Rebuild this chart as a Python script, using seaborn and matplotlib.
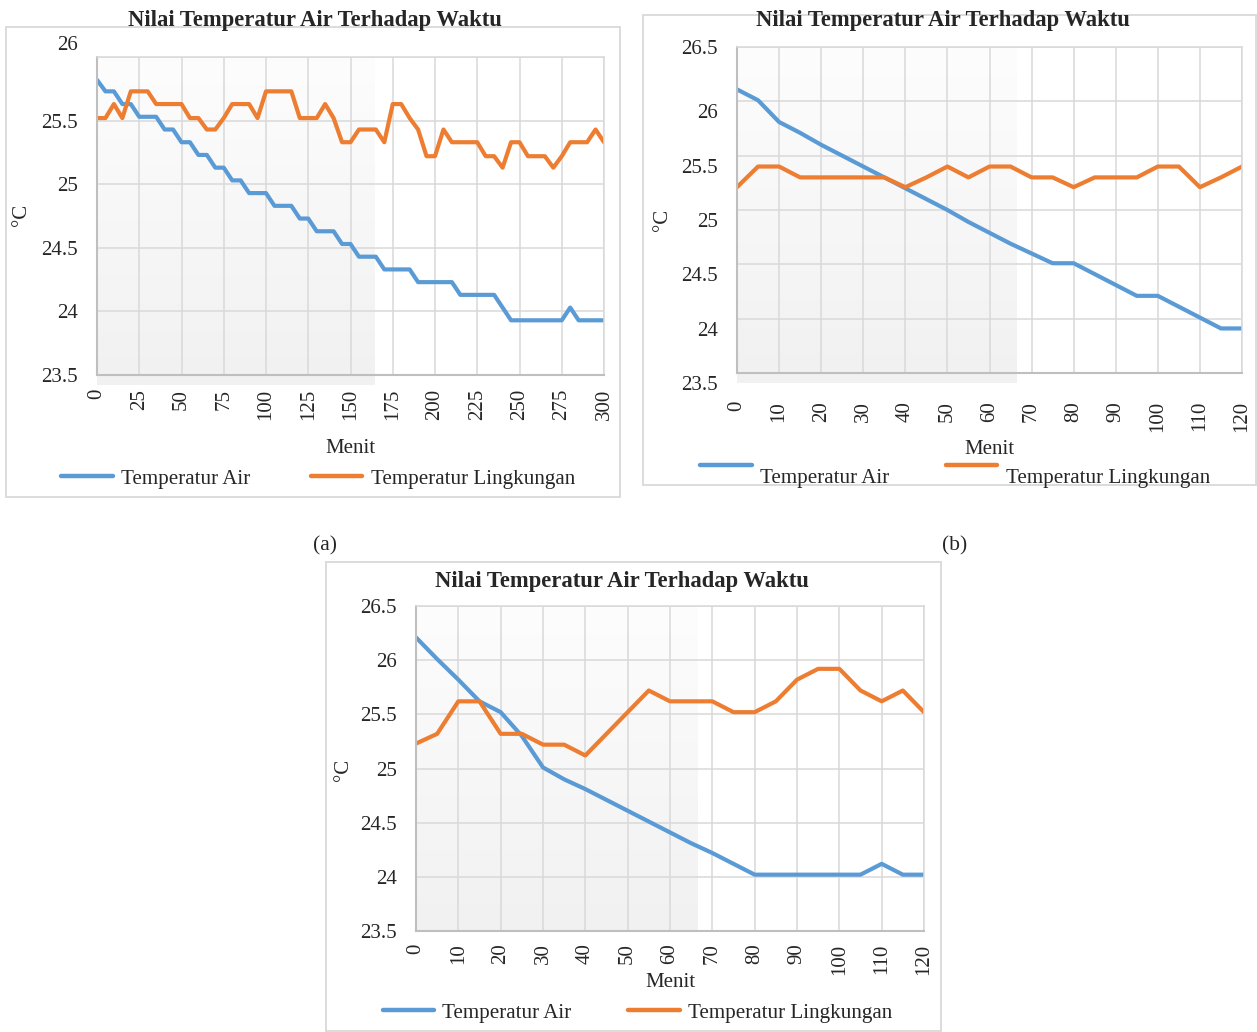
import numpy as np
import pandas as pd
import matplotlib
matplotlib.use("Agg")
import matplotlib.pyplot as plt
import seaborn as sns
from matplotlib.patches import Rectangle
from matplotlib.colors import LinearSegmentedColormap
from matplotlib.transforms import ScaledTranslation

# ---- data ----
menit_a = [0, 5, 10, 15, 20, 25, 30, 35, 40, 45, 50, 55, 60, 65, 70, 75, 80, 85, 90, 95,
           100, 105, 110, 115, 120, 125, 130, 135, 140, 145, 150, 155, 160, 165, 170, 175,
           180, 185, 190, 195, 200, 205, 210, 215, 220, 225, 230, 235, 240, 245, 250, 255,
           260, 265, 270, 275, 280, 285, 290, 295, 300]
air_a = [25.82, 25.73, 25.73, 25.63, 25.63, 25.53, 25.53, 25.53, 25.43, 25.43,
         25.33, 25.33, 25.23, 25.23, 25.13, 25.13, 25.03, 25.03, 24.93, 24.93,
         24.93, 24.83, 24.83, 24.83, 24.73, 24.73, 24.63, 24.63, 24.63, 24.53,
         24.53, 24.43, 24.43, 24.43, 24.33, 24.33, 24.33, 24.33, 24.23, 24.23,
         24.23, 24.23, 24.23, 24.13, 24.13, 24.13, 24.13, 24.13, 24.03, 23.93,
         23.93, 23.93, 23.93, 23.93, 23.93, 23.93, 24.03, 23.93, 23.93, 23.93, 23.93]
lingkungan_a = [25.52, 25.52, 25.63, 25.52, 25.73, 25.73, 25.73, 25.63, 25.63, 25.63,
                25.63, 25.52, 25.52, 25.43, 25.43, 25.52, 25.63, 25.63, 25.63, 25.52,
                25.73, 25.73, 25.73, 25.73, 25.52, 25.52, 25.52, 25.63, 25.52, 25.33,
                25.33, 25.43, 25.43, 25.43, 25.33, 25.63, 25.63, 25.52, 25.43, 25.22,
                25.22, 25.43, 25.33, 25.33, 25.33, 25.33, 25.22, 25.22, 25.13, 25.33,
                25.33, 25.22, 25.22, 25.22, 25.13, 25.22, 25.33, 25.33, 25.33, 25.43, 25.33]

menit_bc = [0, 5, 10, 15, 20, 25, 30, 35, 40, 45, 50, 55, 60, 65, 70, 75, 80, 85, 90, 95,
            100, 105, 110, 115, 120]
air_b = [26.11, 26.01, 25.81, 25.71, 25.60, 25.50, 25.40, 25.30, 25.20, 25.10,
         25.00, 24.89, 24.79, 24.69, 24.60, 24.51, 24.51, 24.41, 24.31, 24.21,
         24.21, 24.11, 24.01, 23.91, 23.91]
lingkungan_b = [25.21, 25.40, 25.40, 25.30, 25.30, 25.30, 25.30, 25.30, 25.21, 25.30,
                25.40, 25.30, 25.40, 25.40, 25.30, 25.30, 25.21, 25.30, 25.30, 25.30,
                25.40, 25.40, 25.21, 25.30, 25.40]
air_c = [26.21, 26.01, 25.82, 25.62, 25.52, 25.30, 25.01, 24.90, 24.81, 24.71,
         24.61, 24.51, 24.41, 24.31, 24.22, 24.12, 24.02, 24.02, 24.02, 24.02,
         24.02, 24.02, 24.12, 24.02, 24.02]
lingkungan_c = [25.23, 25.32, 25.62, 25.62, 25.32, 25.32, 25.22, 25.22, 25.12, 25.32,
                25.52, 25.72, 25.62, 25.62, 25.62, 25.52, 25.52, 25.62, 25.82, 25.92,
                25.92, 25.72, 25.62, 25.72, 25.52]

seri = ["Temperatur Air", "Temperatur Lingkungan"]
warna = ["#5B9BD5", "#ED7D31"]
judul = "Nilai Temperatur Air Terhadap Waktu"

sns.set_style("white")
plt.rcParams["font.family"] = ["Liberation Serif", "DejaVu Serif"]

W, H = 1257, 1032
fig = plt.figure(figsize=(W / 100, H / 100), dpi=100)


def fx(px):
    return px / W


def fy(py):
    return 1 - py / H


shade = LinearSegmentedColormap.from_list("shade", ["#fdfdfd", "#f1f1f1"])


def panel(box, title_pos, rect, menit, air, ling, xmax, xstep, ymax, yticks,
          shade_x, shade_low, xpad, xlab_y, ylab_xy, leg_xy, colspace, label_shift,
          text_drop=0):
    # chart frame (kept behind everything else)
    x0, y0, x1, y1 = box
    fig.add_artist(Rectangle((fx(x0), fy(y1)), fx(x1 - x0), (y1 - y0) / H,
                             transform=fig.transFigure, fill=False,
                             edgecolor="#d9d9d9", linewidth=1.3, zorder=-5))
    fig.text(fx(title_pos[0]), fy(title_pos[1]), judul, ha="center", va="baseline",
             fontsize=16.3, fontweight="bold")

    l, t, r, b = rect
    ax = fig.add_axes([fx(l), fy(b), fx(r - l), (b - t) / H])
    ax.patch.set_alpha(0)
    df = pd.DataFrame({
        "Menit": list(menit) * 2,
        "Suhu": list(air) + list(ling),
        "Seri": [seri[0]] * len(air) + [seri[1]] * len(ling),
    })
    sns.lineplot(data=df, x="Menit", y="Suhu", hue="Seri", hue_order=seri,
                 palette=warna, linewidth=3.0, ax=ax, legend=True)

    grad = np.linspace(0, 1, 256).reshape(-1, 1)
    ax.imshow(grad, cmap=shade, aspect="auto", extent=[0, shade_x, shade_low, ymax],
              origin="upper", zorder=0, clip_on=False)

    ax.set_xlim(0, xmax)
    ax.set_ylim(23.5, ymax)
    ax.set_xticks(np.arange(0, xmax + 1, xstep))
    ax.set_yticks(yticks)
    ax.set_yticklabels([f"{v:g}" for v in yticks])
    ax.set_axisbelow(True)
    ax.grid(True, color="#d9d9d9", linewidth=1.1)
    for s in ["top", "right"]:
        ax.spines[s].set_color("#d9d9d9")
        ax.spines[s].set_linewidth(1.1)
    for s in ["left", "bottom"]:
        ax.spines[s].set_color("#bfbfbf")
        ax.spines[s].set_linewidth(1.5)
    ax.tick_params(axis="x", length=0, labelsize=15, rotation=90, pad=xpad)
    ax.tick_params(axis="y", length=0, labelsize=15, pad=14)
    for lbl, dy in zip(ax.get_yticklabels(), label_shift):
        if dy:
            lbl.set_transform(lbl.get_transform() +
                              ScaledTranslation(0, -dy / 100, fig.dpi_scale_trans))

    ax.set_xlabel("Menit", fontsize=15)
    ax.xaxis.label.set_va("center")
    ax.xaxis.set_label_coords(0.5, xlab_y)
    ax.set_ylabel("°C", fontsize=15)
    ax.yaxis.label.set_va("center")
    ax.yaxis.set_label_coords(*ylab_xy)

    leg = ax.get_legend()
    handles = leg.legend_handles
    labels = [tx.get_text() for tx in leg.get_texts()]
    for h in handles:
        h.set_linewidth(3.2)
    new = ax.legend(handles, labels, loc="center", bbox_to_anchor=leg_xy, ncol=2,
                    frameon=False, fontsize=15.1, handlelength=2.45, handletextpad=0.4,
                    columnspacing=colspace, borderaxespad=0)
    if text_drop:
        for tx in new.get_texts():
            tx.set_y(-text_drop)
    return ax


# (a)
panel(box=(6, 27, 620, 497), title_pos=(315, 26), rect=(97, 57, 604, 375),
      menit=menit_a, air=air_a, ling=lingkungan_a, xmax=300, xstep=25, ymax=26.0,
      yticks=[23.5, 24, 24.5, 25, 25.5, 26], shade_x=164, shade_low=23.42, xpad=10,
      xlab_y=-0.2296, ylab_xy=(-0.148, 0.503), leg_xy=(0.436, -0.327), colspace=2.9,
      label_shift=[0, 0, 0, 0, 0, -14])

# (b)
panel(box=(643, 15, 1256, 485), title_pos=(943, 26), rect=(737, 47, 1242, 373),
      menit=menit_bc, air=air_b, ling=lingkungan_b, xmax=120, xstep=10, ymax=26.5,
      yticks=[23.5, 24, 24.5, 25, 25.5, 26, 26.5], shade_x=66.3, shade_low=23.41, xpad=20,
      xlab_y=-0.235, ylab_xy=(-0.1485, 0.469), leg_xy=(0.432, -0.29), colspace=2.7,
      label_shift=[10, 10, 10, 10, 10, 10, 0], text_drop=11)

# (c)
panel(box=(326, 562, 941, 1031), title_pos=(622, 587), rect=(416, 606, 924, 931),
      menit=menit_bc, air=air_c, ling=lingkungan_c, xmax=120, xstep=10, ymax=26.5,
      yticks=[23.5, 24, 24.5, 25, 25.5, 26, 26.5], shade_x=66.4, shade_low=23.5, xpad=9,
      xlab_y=-0.157, ylab_xy=(-0.1437, 0.495), leg_xy=(0.436, -0.252), colspace=2.7,
      label_shift=[0, 0, 0, 0, 0, 0, 0])

fig.text(fx(325), fy(546), "(a)", ha="center", va="center", fontsize=15.5)
fig.text(fx(955), fy(546), "(b)", ha="center", va="center", fontsize=15.5)

fig.savefig("out.png", dpi=100, facecolor="white")
